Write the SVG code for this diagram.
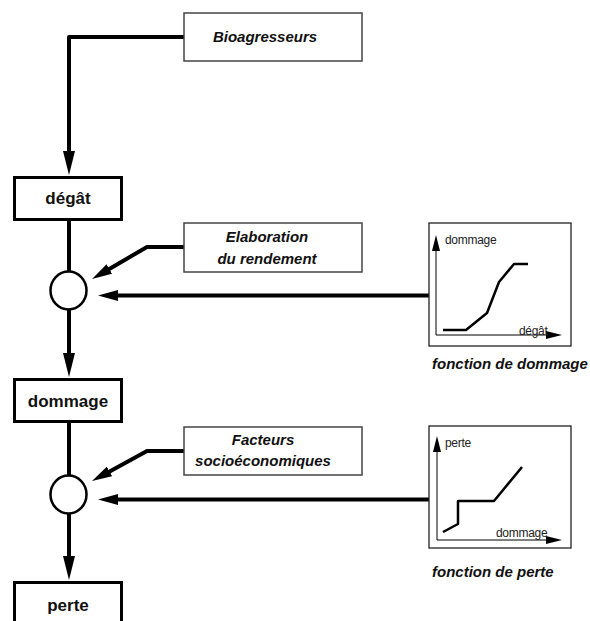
<svg xmlns="http://www.w3.org/2000/svg" width="590" height="621" viewBox="0 0 590 621">
<style>
.bg{fill:#fff}
.node{fill:#fff;stroke:#000;stroke-width:3}
.lab{fill:#fff;stroke:#444;stroke-width:1.5}
.fbox{fill:#fff;stroke:#222;stroke-width:1.3}
.circ{fill:#fff;stroke:#000;stroke-width:2.5}
.conn{fill:none;stroke:#000;stroke-width:4;stroke-linejoin:round}
.axis{fill:none;stroke:#000;stroke-width:1}
.curve{fill:none;stroke:#000;stroke-width:2.5;stroke-linejoin:round}
.tn{font-family:"Liberation Sans",Arial,sans-serif;font-weight:bold;font-size:17px;fill:#111;text-anchor:middle}
.ti{font-family:"Liberation Sans",Arial,sans-serif;font-weight:bold;font-style:italic;font-size:15px;fill:#111;text-anchor:middle}
.tf{font-family:"Liberation Sans",Arial,sans-serif;font-weight:bold;font-style:italic;font-size:15px;fill:#111}
.ts{font-family:"Liberation Sans",Arial,sans-serif;font-size:12px;letter-spacing:-0.3px;fill:#222}
</style>
<defs>
<marker id="ahv" viewBox="0 0 24 12" markerWidth="24" markerHeight="12" refX="2" refY="6" orient="auto" markerUnits="userSpaceOnUse"><path d="M0,0 L24,6 L0,12 z" fill="#000"/></marker>
<marker id="ahh" viewBox="0 0 20 11" markerWidth="20" markerHeight="11" refX="2" refY="5.5" orient="auto" markerUnits="userSpaceOnUse"><path d="M0,0 L20,5.5 L0,11 z" fill="#000"/></marker>
<marker id="ahs" viewBox="0 0 16 8" markerWidth="16" markerHeight="8" refX="1" refY="4" orient="auto" markerUnits="userSpaceOnUse"><path d="M0,0 L16,4 L0,8 z" fill="#000"/></marker>
</defs>
<rect class="bg" x="0" y="0" width="590" height="621"/>

<g id="connectors">
<path class="conn" d="M184,37 H69 V153" marker-end="url(#ahv)"/>
<path class="conn" d="M69,221 V272"/>
<path class="conn" d="M69,310 V355" marker-end="url(#ahv)"/>
<path class="conn" d="M69,423 V475"/>
<path class="conn" d="M69,514 V558" marker-end="url(#ahv)"/>
<path class="conn" d="M184,247 H147 L107.6,269.9" marker-end="url(#ahh)"/>
<path class="conn" d="M184,451 H147 L107.8,472.4" marker-end="url(#ahh)"/>
<path class="conn" d="M429,295.5 H116" marker-end="url(#ahh)"/>
<path class="conn" d="M429,499.5 H116" marker-end="url(#ahh)"/>
</g>

<g id="bioagresseurs">
<rect class="lab" x="184" y="13" width="178" height="48"/>
<text class="ti" x="265" y="42">Bioagresseurs</text>
</g>

<g id="degat">
<rect class="node" x="14.5" y="177.5" width="107" height="42"/>
<text class="tn" x="68" y="204">dégât</text>
</g>

<g id="elaboration">
<rect class="lab" x="184" y="223" width="178" height="49"/>
<text class="ti" x="267" y="242">Elaboration</text>
<text class="ti" x="267" y="264">du rendement</text>
</g>

<g id="jonction1">
<ellipse class="circ" cx="68.5" cy="290.5" rx="18" ry="19"/>
</g>

<g id="fonction-dommage">
<rect class="fbox" x="429" y="223" width="142" height="123"/>
<path class="axis" d="M436,335 V250" marker-end="url(#ahs)"/>
<path class="axis" d="M436,335 H547" marker-end="url(#ahs)"/>
<polyline class="curve" points="443,330 466,330 487,313 499,282 514,264 528,264"/>
<text class="ts" x="445" y="244">dommage</text>
<text class="ts" x="519" y="335">dégât</text>
<text class="tf" x="432" y="369">fonction de dommage</text>
</g>

<g id="dommage">
<rect class="node" x="14.5" y="379.5" width="107" height="42"/>
<text class="tn" x="68" y="407">dommage</text>
</g>

<g id="facteurs">
<rect class="lab" x="184" y="427" width="178" height="48"/>
<text class="ti" x="263" y="445">Facteurs</text>
<text class="ti" x="263" y="466">socioéconomiques</text>
</g>

<g id="jonction2">
<ellipse class="circ" cx="68.5" cy="494.5" rx="18" ry="19"/>
</g>

<g id="fonction-perte">
<rect class="fbox" x="429" y="426" width="142" height="122"/>
<path class="axis" d="M437,540 V451" marker-end="url(#ahs)"/>
<path class="axis" d="M437,540 H547" marker-end="url(#ahs)"/>
<polyline class="curve" points="443,532 458,524 458,501 494,501 522,467"/>
<text class="ts" x="445" y="447">perte</text>
<text class="ts" x="496" y="537">dommage</text>
<text class="tf" x="432" y="577">fonction de perte</text>
</g>

<g id="perte">
<rect class="node" x="14.5" y="582.5" width="107" height="50"/>
<text class="tn" x="68" y="611">perte</text>
</g>
</svg>
